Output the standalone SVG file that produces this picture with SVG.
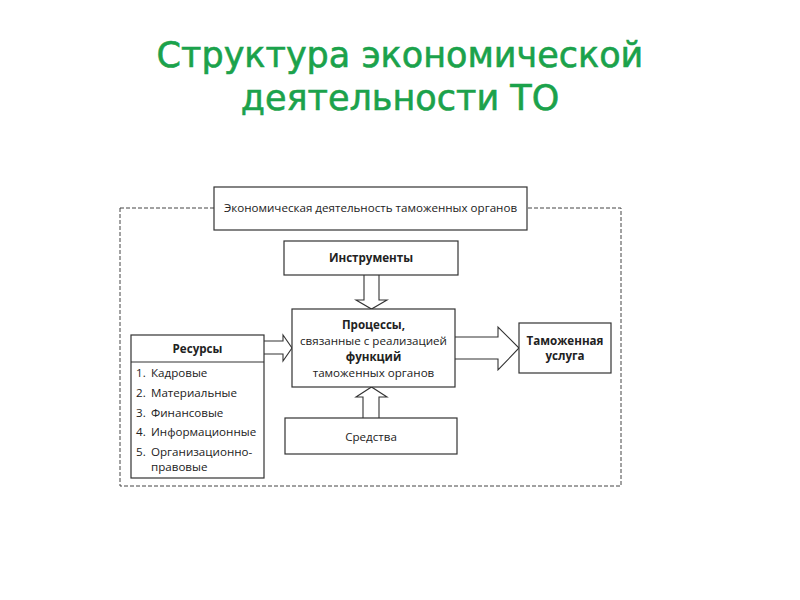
<svg xmlns="http://www.w3.org/2000/svg" width="800" height="600" viewBox="0 0 800 600">
<style>
.title{font-family:"DejaVu Sans",Verdana,sans-serif;font-size:35px;fill:#1ba24b;stroke:#1ba24b;stroke-width:0.6;text-anchor:middle}
.box{fill:#fff;stroke:#333;stroke-width:1.2}
.t{font-family:"Open Sans","Liberation Sans",sans-serif;font-size:11.6px;fill:#222;text-anchor:middle}
.b{font-weight:bold}
.l{font-family:"Open Sans","Liberation Sans",sans-serif;font-size:11.6px;fill:#222}
.arr{fill:#fff;stroke:#333;stroke-width:1.1;stroke-linejoin:miter}
</style>
<rect width="800" height="600" fill="#fff"/>
<text class="title" x="400" y="67">Структура экономической</text>
<text class="title" x="400" y="110">деятельности ТО</text>

<g id="frame">
<rect x="120" y="208" width="501" height="278" fill="none" stroke="#444" stroke-width="1" stroke-dasharray="4,2"/>
</g>

<g id="connectors">
<path class="arr" d="M364,275 V300 H356 L371.5,309 L387,300 H379 V275"/>
<path class="arr" d="M363,418 V397 H356 L371.5,387 L387,397 H379 V418"/>
<path class="arr" d="M264,341 H283 V335 L292,348 L283,361 V354 H264"/>
<path class="arr" d="M455,337 H498 V327 L519,348 L498,370 V359 H455"/>
</g>

<g id="econ">
<rect class="box" x="214" y="187" width="313" height="43"/>
<text class="t" x="370.5" y="212">Экономическая деятельность таможенных органов</text>
</g>

<g id="instr">
<rect class="box" x="284" y="241" width="174" height="34"/>
<text class="t b" x="371" y="262">Инструменты</text>
</g>

<g id="proc">
<rect class="box" x="292" y="309" width="163" height="78"/>
<text class="t b" x="373.5" y="329">Процессы,</text>
<text class="t" x="373.5" y="345">связанные с реализацией</text>
<text class="t b" x="373.5" y="361">функций</text>
<text class="t" x="373.5" y="377">таможенных органов</text>
</g>

<g id="usluga">
<rect class="box" x="519" y="323" width="92" height="50"/>
<text class="t b" x="565" y="345">Таможенная</text>
<text class="t b" x="565" y="360">услуга</text>
</g>

<g id="sredstva">
<rect class="box" x="285" y="418" width="172" height="36"/>
<text class="t" x="371" y="441">Средства</text>
</g>

<g id="resursy">
<rect class="box" x="131" y="335" width="133" height="143"/>
<line x1="131" y1="362" x2="264" y2="362" stroke="#333" stroke-width="1.2"/>
<text class="t b" x="197.5" y="353">Ресурсы</text>
<text class="l" x="136" y="377">1.</text><text class="l" x="151" y="377">Кадровые</text>
<text class="l" x="136" y="397">2.</text><text class="l" x="151" y="397">Материальные</text>
<text class="l" x="136" y="417">3.</text><text class="l" x="151" y="417">Финансовые</text>
<text class="l" x="136" y="436">4.</text><text class="l" x="151" y="436">Информационные</text>
<text class="l" x="136" y="456">5.</text><text class="l" x="151" y="456">Организационно-</text>
<text class="l" x="151" y="471">правовые</text>
</g>
</svg>
